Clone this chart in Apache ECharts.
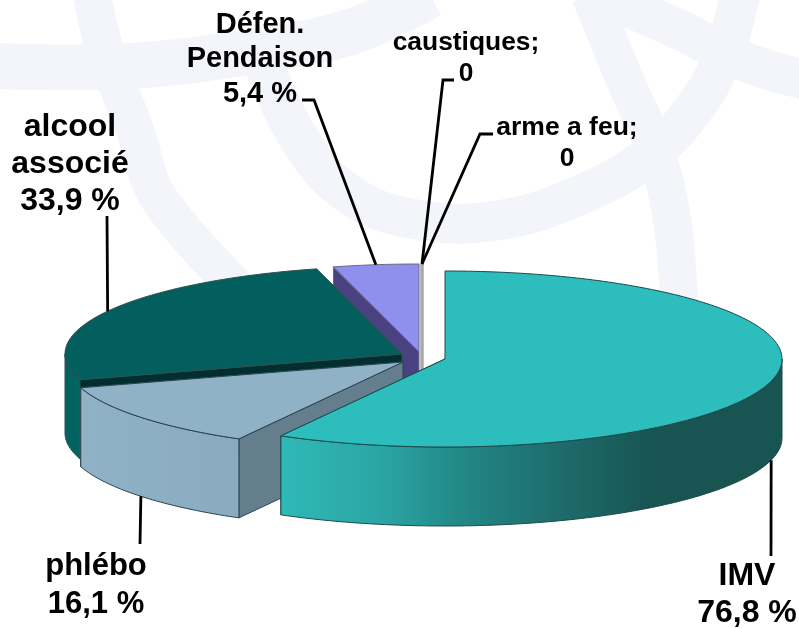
<!DOCTYPE html>
<html>
<head>
<meta charset="utf-8">
<title>Pie 3D</title>
<style>
  html, body { margin: 0; padding: 0; background: #fff; }
  #chart { width: 799px; height: 628px; }
</style>
<script src="https://cdn.jsdelivr.net/npm/echarts@6/dist/echarts.min.js"></script>
</head>
<body>
<div id="chart"></div>
<script>
// Data
var categories = ['IMV', 'phlébo', 'alcool\nassocié', 'Défen.\nPendaison', 'caustiques;', 'arme a feu;'];
var values = [76.8, 16.1, 33.9, 5.4, 0, 0];

// Slice colours
var topColors = ['#2dbdbd', '#8fb2c7', '#035f5e', '#8f8fee', '#a8a8a8', '#a8a8a8'];
var cutColors = ['#1c7a7a', '#657e8d', '#012e2e', '#4a4280', '#a8a8a8', '#a8a8a8'];
var edgeColors = ['#1d4a4a', '#2c4452', '#2f5050', '#6a6a80', '#8a8a8a', '#8a8a8a'];

// Ellipse shape, every slice is exploded from its own centre
var RX = 337, RY = 88, DEPTH = 79;
var centers = [[445, 359], [403, 362], [402, 354], [419, 352], [422, 352], [422, 352]];
var depthOrder = [10, 9, 8, 6, 7, 7];

// Label boxes: x, y, font size, line height, and the elbow of the leader line
var labelLayout = [
  { x: 747, y: 595, size: 32, lh: 37, path: [[771, 556]] },
  { x: 96, y: 585, size: 31, lh: 38, path: [[140, 544]] },
  { x: 70, y: 164, size: 32, lh: 37, path: [[107, 216]] },
  { x: 260, y: 59, size: 29, lh: 34.5, path: [[302, 100], [314, 100]] },
  { x: 466, y: 58, size: 26.4, lh: 31, path: [[454, 80], [443, 80]] },
  { x: 567, y: 143, size: 26.5, lh: 31, path: [[493, 134], [480, 134]] }
];

var total = values.reduce(function(a, b) { return a + b; }, 0);
var startAngles = [];
(function() {
  var sum = 0;
  values.forEach(function(v) {
    startAngles.push(sum / total * 360);
    sum += v;
  });
})();

function rimPoint(i, deg, drop) {
  var t = deg * Math.PI / 180;
  return [
    centers[i][0] + RX * Math.sin(t),
    centers[i][1] - RY * Math.cos(t) + (drop || 0)
  ];
}

function rimPoints(i, from, to, drop) {
  var pts = [];
  var step = from < to ? 1 : -1;
  for (var a = from; step > 0 ? a < to : a > to; a += step) pts.push(rimPoint(i, a, drop));
  pts.push(rimPoint(i, to, drop));
  return pts;
}

function wallFill(i) {
  if (i === 0) {
    return new echarts.graphic.LinearGradient(0, 0, 1, 0, [
      { offset: 0, color: '#2fb9b7' },
      { offset: 0.2, color: '#2aa5a4' },
      { offset: 0.37, color: '#228685' },
      { offset: 0.56, color: '#1e6b6b' },
      { offset: 0.74, color: '#175452' },
      { offset: 1, color: '#175452' }
    ]);
  }
  if (i === 1) {
    return new echarts.graphic.LinearGradient(0, 0, 1, 0, [
      { offset: 0, color: '#8fb2c7' },
      { offset: 1, color: '#8aaabf' }
    ]);
  }
  return '#026260';
}

function renderSlice(params, api) {
  var i = params.dataIndex;
  var value = api.value(0);
  var a0 = startAngles[i];
  var a1 = a0 + value / total * 360;
  var c = centers[i];
  var z = depthOrder[i];
  var children = [];
  var edge = { stroke: edgeColors[i], lineWidth: 1 };

  if (value > 0) {
    // radial cut on the trailing side, only seen when it faces the viewer
    if (a1 > 180 && a1 < 360) {
      var rim = rimPoint(i, a1);
      children.push({
        type: 'polygon',
        z2: z,
        shape: { points: [c, rim, [rim[0], rim[1] + DEPTH], [c[0], c[1] + DEPTH]] },
        style: { fill: cutColors[i], stroke: edge.stroke, lineWidth: 1 }
      });
    }
    if (a0 > 180 && a0 < 360) {
      var rim0 = rimPoint(i, a0);
      children.push({
        type: 'polygon',
        z2: z,
        shape: { points: [c, rim0, [rim0[0], rim0[1] + DEPTH], [c[0], c[1] + DEPTH]] },
        style: { fill: cutColors[i], stroke: edge.stroke, lineWidth: 1 }
      });
    }
    // outer wall, front half of the ellipse only
    var w0 = Math.max(a0, 90), w1 = Math.min(a1, 270);
    if (w1 > w0) {
      children.push({
        type: 'polygon',
        z2: z + 0.1,
        shape: { points: rimPoints(i, w0, w1).concat(rimPoints(i, w1, w0, DEPTH)) },
        style: { fill: wallFill(i), stroke: edge.stroke, lineWidth: 1 }
      });
    }
    // top face
    children.push({
      type: 'polygon',
      z2: z + 0.2,
      shape: { points: [c].concat(rimPoints(i, a0, a1)) },
      style: { fill: topColors[i], stroke: edge.stroke, lineWidth: 1 }
    });
  } else {
    // empty slice: just the thin wall left at the cut
    var r = rimPoint(i, a0);
    children.push({
      type: 'line',
      z2: z,
      shape: { x1: r[0], y1: r[1], x2: r[0], y2: c[1] + DEPTH },
      style: { stroke: topColors[i], lineWidth: 3 }
    });
  }

  // leader line, ends on the middle of the slice rim
  var lay = labelLayout[i];
  var mid = (a0 + a1) / 2;
  var onFront = mid > 90 && mid < 270;
  children.push({
    type: 'polyline',
    z2: 30,
    shape: { points: lay.path.concat([rimPoint(i, mid, onFront ? DEPTH : 0)]) },
    style: { fill: null, stroke: '#000', lineWidth: 2.8 }
  });

  // label
  var txt = value > 0 ? value.toFixed(1).replace('.', ',') + ' %' : '0';
  children.push({
    type: 'text',
    z2: 31,
    style: {
      x: lay.x,
      y: lay.y,
      text: categories[i] + '\n' + txt,
      fill: '#000',
      font: 'bold ' + lay.size + 'px "Liberation Sans", Arial, sans-serif',
      lineHeight: lay.lh,
      align: 'center',
      verticalAlign: 'middle'
    }
  });

  return { type: 'group', children: children };
}

// Faint watermark behind the chart
function band(points, width) {
  return {
    type: 'polyline',
    silent: true,
    shape: { points: points, smooth: 0.4 },
    style: { fill: null, stroke: '#f4f5fa', lineWidth: width }
  };
}

var chart = echarts.init(document.getElementById('chart'));
chart.setOption({
  backgroundColor: '#fff',
  animation: false,
  graphic: {
    elements: [
      band([[-5, 66], [130, 66], [260, 50], [350, 32], [430, -5]], 46),
      band([[92, -5], [105, 50], [135, 130], [160, 200], [250, 300]], 38),
      band([[262, 60], [300, 140], [350, 195], [420, 220], [500, 220], [580, 195], [650, 155], [700, 100], [725, 50], [740, -5]], 40),
      band([[590, -5], [625, 80], [655, 150], [672, 220], [680, 320]], 38),
      band([[600, -5], [680, 30], [740, 60], [805, 80]], 40)
    ]
  },
  series: [{
    type: 'custom',
    coordinateSystem: 'none',
    silent: true,
    clip: false,
    data: values.map(function(v, i) { return { name: categories[i], value: [v] }; }),
    renderItem: renderSlice
  }]
});
</script>
</body>
</html>
